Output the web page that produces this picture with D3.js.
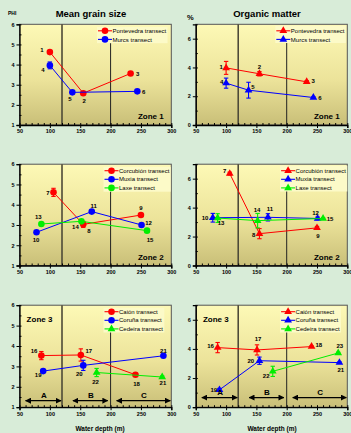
<!DOCTYPE html>
<html><head><meta charset="utf-8">
<script src="https://cdn.jsdelivr.net/npm/d3@7"></script>
<style>
html,body{margin:0;padding:0;background:#d8ecd8;}
svg{display:block;font-family:"Liberation Sans",Arial,sans-serif;}
</style></head><body>
<svg id="c" width="351" height="433"></svg>
<script>
// ---------- data ----------
const depthTicks = [50, 100, 150, 200, 250, 300];
const grainTicks = [1, 2, 3, 4, 5, 6];
const omTicks = [0, 2, 4, 6];
const boundaryDepths = [120, 200];
const areaLabels = ['A', 'B', 'C'];
const areaFrom = [60, 138, 210];
const areaTo = [120, 197, 300];

// Zone 1
const pontevedraStations = [1, 2, 3];
const pontevedraDepth = [100, 155, 233];
const pontevedraGrain = [4.62, 2.58, 3.56];
const pontevedraGrainErr = [0.08, 0.05, 0.05];
const pontevedraOM = [3.97, 3.56, 3.0];
const pontevedraOMErr = [0.45, 0.15, 0.08];
const murosStations = [4, 5, 6];
const murosDepth = [100, 137, 244];
const murosGrain = [3.96, 2.62, 2.67];
const murosGrainErr = [0.17, 0.05, 0.05];
const murosOM = [2.91, 2.42, 1.91];
const murosOMErr = [0.35, 0.55, 0.05];

// Zone 2
const corcubionStations = [7, 8, 9];
const corcubionDepth = [106, 155, 250];
const corcubionGrain = [4.61, 3.03, 3.49];
const corcubionGrainErr = [0.2, 0.15, 0.05];
const corcubionOM = [6.35, 2.2, 2.6];
const corcubionOMErr = [0.1, 0.35, 0.1];
const muxiaStations = [10, 11, 12];
const muxiaDepth = [78, 169, 251];
const muxiaGrain = [2.64, 3.66, 3.0];
const muxiaGrainErr = [0.05, 0.05, 0.05];
const muxiaOM = [3.3, 3.33, 3.25];
const muxiaOMErr = [0.3, 0.25, 0.1];
const laxeStations = [13, 14, 15];
const laxeDepth = [86, 152, 260];
const laxeGrain = [3.05, 3.18, 2.72];
const laxeGrainErr = [0.05, 0.05, 0.05];
const laxeOM = [3.28, 3.1, 3.25];
const laxeOMErr = [0.3, 0.5, 0.05];

// Zone 3
const caionStations = [16, 17, 18];
const caionDepth = [86, 151, 241];
const caionGrain = [3.53, 3.56, 2.59];
const caionGrainErr = [0.2, 0.3, 0.05];
const caionOM = [4.09, 3.93, 4.16];
const caionOMErr = [0.35, 0.35, 0.05];
const corunaStations = [19, 20, 21];
const corunaDepth = [89, 155, 287];
const corunaGrain = [2.77, 3.05, 3.52];
const corunaGrainErr = [0.05, 0.25, 0.05];
const corunaOM = [1.19, 3.19, 3.06];
const corunaOMErr = [0.1, 0.25, 0.05];
const cedeiraGrainStations = [22, 21];
const cedeiraOMStations = [22, 23];
const cedeiraDepth = [177, 285];
const cedeiraGrain = [2.7, 2.48];
const cedeiraGrainErr = [0.2, 0.05];
const cedeiraOM = [2.46, 3.72];
const cedeiraOMErr = [0.35, 0.05];

// ---------- styling / layout ----------
const RED = '#ff0000', BLUE = '#0000ff', GREEN = '#00ee00';
const cols = [{x0: 19.5, x1: 171.3}, {x0: 195.8, x1: 347.3}];
const rows = [{y0: 24.3, y1: 125}, {y0: 164.2, y1: 265.5}, {y0: 305.2, y1: 407.2}];

function mk(name, color, shape, st, dep, val, err, offs) {
  return {name, color, shape, pts: st.map((s, i) => ({st: s, d: dep[i], v: val[i], e: err[i], off: offs[i]}))};
}

const panels = [
  {c: 0, r: 0, grain: true, zone: 'Zone 1', zonePos: 'br', legX: 78.5,
   series: [
     mk('Pontevedra transect', RED, 'c', pontevedraStations, pontevedraDepth, pontevedraGrain, pontevedraGrainErr, [[-8,-2],[1,8],[7,0]]),
     mk('Murcs transect', BLUE, 'c', murosStations, murosDepth, murosGrain, murosGrainErr, [[-7,5],[-2.5,6.5],[6.5,0.5]])]},
  {c: 1, r: 0, grain: false, zone: 'Zone 1', zonePos: 'br', legX: 80.5,
   series: [
     mk('Pontevedra transect', RED, 't', pontevedraStations, pontevedraDepth, pontevedraOM, pontevedraOMErr, [[-5,-0.5],[0,-7],[6.5,-0.5]]),
     mk('Murcs transect', BLUE, 't', murosStations, murosDepth, murosOM, murosOMErr, [[-4.5,-1.5],[4.5,-3],[6.5,0.5]])]},
  {c: 0, r: 1, grain: true, zone: 'Zone 2', zonePos: 'br', legX: 85,
   series: [
     mk('Corcubión transect', RED, 'c', corcubionStations, corcubionDepth, corcubionGrain, corcubionGrainErr, [[-5.5,0.5],[5.7,6.7],[0,-6.7]]),
     mk('Muxia transect', BLUE, 'c', muxiaStations, muxiaDepth, muxiaGrain, muxiaGrainErr, [[-0.5,8],[2,-6],[7,-2]]),
     mk('Laxe transect', GREEN, 'c', laxeStations, laxeDepth, laxeGrain, laxeGrainErr, [[-3,-6.7],[-6,5.3],[3,9]])]},
  {c: 1, r: 1, grain: false, zone: 'Zone 2', zonePos: 'br', legX: 85.3,
   series: [
     mk('Corcubión transect', RED, 't', corcubionStations, corcubionDepth, corcubionOM, corcubionOMErr, [[-5,-3],[-5.7,1.3],[1,7.7]]),
     mk('Muxia transect', BLUE, 't', muxiaStations, muxiaDepth, muxiaOM, muxiaOMErr, [[-7.7,-0.3],[2,-8],[-2,-6]]),
     mk('Laxe transect', GREEN, 't', laxeStations, laxeDepth, laxeOM, laxeOMErr, [[3.4,5],[-0.5,-11],[7,0]])]},
  {c: 0, r: 2, grain: true, zone: 'Zone 3', zonePos: 'tl', legX: 85, arrowV: 1.32,
   series: [
     mk('Caión transect', RED, 'c', caionStations, caionDepth, caionGrain, caionGrainErr, [[-7.3,-4.3],[8,-3.7],[1,9]]),
     mk('Coruña transect', BLUE, 'c', corunaStations, corunaDepth, corunaGrain, corunaGrainErr, [[-5,4.3],[-4,9],[0,-5.3]]),
     mk('Cedeira transect', GREEN, 't', cedeiraGrainStations, cedeiraDepth, cedeiraGrain, cedeiraGrainErr, [[-1,9],[0.7,6.3]])]},
  {c: 1, r: 2, grain: false, zone: 'Zone 3', zonePos: 'tl', legX: 85.3, arrowV: 0.66,
   series: [
     mk('Caión transect', RED, 't', caionStations, caionDepth, caionOM, caionOMErr, [[-7,-1.7],[1,-10.7],[7.3,-1.4]]),
     mk('Coruña transect', BLUE, 't', corunaStations, corunaDepth, corunaOM, corunaOMErr, [[-5.7,0],[-8.7,0],[1.4,7.3]]),
     mk('Cedeira transect', GREEN, 't', cedeiraOMStations, cedeiraDepth, cedeiraOM, cedeiraOMErr, [[-6.6,4.3],[1.6,-7.3]])]}
];

const svg = d3.select('#c');
const defs = svg.append('defs');
const grad = defs.append('linearGradient').attr('id', 'bg').attr('x1', 0).attr('y1', 0).attr('x2', 0).attr('y2', 1);
grad.append('stop').attr('offset', '0%').attr('stop-color', '#fdf9b6');
grad.append('stop').attr('offset', '55%').attr('stop-color', '#ece39a');
grad.append('stop').attr('offset', '100%').attr('stop-color', '#c9bf78');
const mA = defs.append('marker').attr('id', 'ah').attr('viewBox', '0 0 10 10').attr('refX', 9).attr('refY', 5)
  .attr('markerWidth', 5).attr('markerHeight', 5).attr('orient', 'auto-start-reverse');
mA.append('path').attr('d', 'M0,0L10,5L0,10Z').attr('fill', '#000');

// titles
svg.append('text').attr('x', 91).attr('y', 17).attr('text-anchor', 'middle').attr('font-size', 9.5).attr('font-weight', 'bold').text('Mean grain size');
svg.append('text').attr('x', 267).attr('y', 17).attr('text-anchor', 'middle').attr('font-size', 9.5).attr('font-weight', 'bold').text('Organic matter');
svg.append('text').attr('x', 8).attr('y', 15).attr('font-size', 5).attr('font-weight', 'bold').text('PHI');
svg.append('text').attr('x', 187).attr('y', 20).attr('font-size', 7.5).attr('font-weight', 'bold').text('%');
svg.append('text').attr('x', 100).attr('y', 431).attr('text-anchor', 'middle').attr('font-size', 6.5).attr('font-weight', 'bold').text('Water depth (m)');
svg.append('text').attr('x', 272).attr('y', 431).attr('text-anchor', 'middle').attr('font-size', 6.5).attr('font-weight', 'bold').text('Water depth (m)');

function shape(sel, s, color) {
  if (s === 'c') {
    sel.append('circle').attr('r', 3.3).attr('fill', color);
  } else {
    sel.append('path').attr('d', d3.symbol(d3.symbolTriangle).size(26)()).attr('fill', color);
  }
}

panels.forEach(p => {
  const {x0, x1} = cols[p.c];
  const {y0, y1} = rows[p.r];
  const x = d3.scaleLinear().domain([50, 300]).range([x0, x1]);
  const y = d3.scaleLinear().domain(p.grain ? [1, 6] : [0, 7]).range([y1, y0]);
  const g = svg.append('g');

  g.append('rect').attr('x', x0).attr('y', y0).attr('width', x1 - x0).attr('height', y1 - y0)
    .attr('fill', 'url(#bg)').attr('stroke', '#555').attr('stroke-width', 1);

  // boundary lines
  g.append('line').attr('x1', x(boundaryDepths[0])).attr('x2', x(boundaryDepths[0])).attr('y1', y0).attr('y2', y1)
    .attr('stroke', '#4d4a38').attr('stroke-width', 1.6);
  g.append('line').attr('x1', x(boundaryDepths[1])).attr('x2', x(boundaryDepths[1])).attr('y1', y0 + 10).attr('y2', y1)
    .attr('stroke', '#222').attr('stroke-width', 1);

  // axes
  const minorX = d3.range(50, 301, 10);
  g.append('g').attr('transform', `translate(0,${y1})`)
    .call(d3.axisBottom(x).tickValues(minorX).tickSize(-2).tickFormat(''))
    .call(a => a.select('.domain').remove()).selectAll('line').attr('stroke', '#000');
  const ax = g.append('g').attr('transform', `translate(0,${y1})`)
    .call(d3.axisBottom(x).tickValues(depthTicks).tickSize(3).tickPadding(1.5).tickFormat(d3.format('d')));
  ax.select('.domain').attr('stroke', '#000').attr('stroke-width', 1.3);
  ax.selectAll('text').attr('font-size', 5.5).attr('font-weight', 'bold').attr('font-family', 'Liberation Sans, Arial, sans-serif');

  const minorY = p.grain ? d3.range(1, 6.01, 0.5) : d3.range(0, 7.01, 1);
  g.append('g').attr('transform', `translate(${x0},0)`)
    .call(d3.axisLeft(y).tickValues(minorY).tickSize(-2).tickFormat(''))
    .call(a => a.select('.domain').remove()).selectAll('line').attr('stroke', '#000');
  const ay = g.append('g').attr('transform', `translate(${x0},0)`)
    .call(d3.axisLeft(y).tickValues(p.grain ? grainTicks : omTicks).tickSize(3).tickPadding(2).tickFormat(d3.format('d')));
  ay.select('.domain').attr('stroke', '#000').attr('stroke-width', 1.3);
  ay.selectAll('text').attr('font-size', 5.5).attr('font-weight', 'bold').attr('font-family', 'Liberation Sans, Arial, sans-serif');

  // series
  p.series.forEach(s => {
    g.append('path').datum(s.pts)
      .attr('d', d3.line().x(d => x(d.d)).y(d => y(d.v)))
      .attr('fill', 'none').attr('stroke', s.color).attr('stroke-width', 1);
    s.pts.forEach(d => {
      const cx = x(d.d);
      const eb = g.append('g').attr('stroke', s.color).attr('stroke-width', 1.1);
      eb.append('line').attr('x1', cx).attr('x2', cx).attr('y1', y(d.v - d.e)).attr('y2', y(d.v + d.e));
      [d.v - d.e, d.v + d.e].forEach(v => eb.append('line').attr('x1', cx - 2.2).attr('x2', cx + 2.2).attr('y1', y(v)).attr('y2', y(v)));
      const m = g.append('g').attr('transform', `translate(${cx},${y(d.v)})`);
      shape(m, s.shape, s.color);
      g.append('text').attr('x', cx + d.off[0]).attr('y', y(d.v) + d.off[1]).attr('dy', '0.35em')
        .attr('text-anchor', 'middle').attr('font-size', 6).attr('font-weight', 'bold').text(d.st);
    });
  });

  // legend
  const lx = x0 + p.legX, ly = y0 + 6.5, step = 8.6;
  const leg = g.append('g');
  const box = leg.append('rect').attr('fill', '#fcfac8');
  p.series.forEach((s, i) => {
    const yy = ly + i * step;
    leg.append('line').attr('x1', lx).attr('x2', lx + 14).attr('y1', yy).attr('y2', yy).attr('stroke', s.color).attr('stroke-width', 1.1);
    const m = leg.append('g').attr('transform', `translate(${lx + 7},${yy})`);
    shape(m, s.shape, s.color);
    leg.append('text').attr('x', lx + 14.5).attr('y', yy).attr('dy', '0.35em').attr('font-size', 6).text(s.name);
  });
  const bb = leg.node().getBBox();
  box.attr('x', bb.x - 1).attr('y', bb.y - 0.5).attr('width', bb.width + 2).attr('height', bb.height + 1);

  // zone label
  if (p.zonePos === 'br') {
    g.append('text').attr('x', x1 - 20.5).attr('y', y1 - 6).attr('text-anchor', 'middle').attr('font-size', 8).attr('font-weight', 'bold').text(p.zone);
  } else {
    g.append('text').attr('x', x0 + 20).attr('y', y0 + 16.5).attr('text-anchor', 'middle').attr('font-size', 8).attr('font-weight', 'bold').text(p.zone);
  }

  // A/B/C arrows
  if (p.arrowV !== undefined) {
    const ay2 = y(p.arrowV);
    areaLabels.forEach((lab, i) => {
      g.append('line').attr('x1', x(areaFrom[i])).attr('x2', x(areaTo[i]) - 1).attr('y1', ay2).attr('y2', ay2)
        .attr('stroke', '#000').attr('stroke-width', 1.2)
        .attr('marker-start', 'url(#ah)').attr('marker-end', 'url(#ah)');
      g.append('text').attr('x', x((areaFrom[i] + areaTo[i]) / 2)).attr('y', ay2 - 3).attr('text-anchor', 'middle')
        .attr('font-size', 8).attr('font-weight', 'bold').text(lab);
    });
  }
});
</script></body></html>
